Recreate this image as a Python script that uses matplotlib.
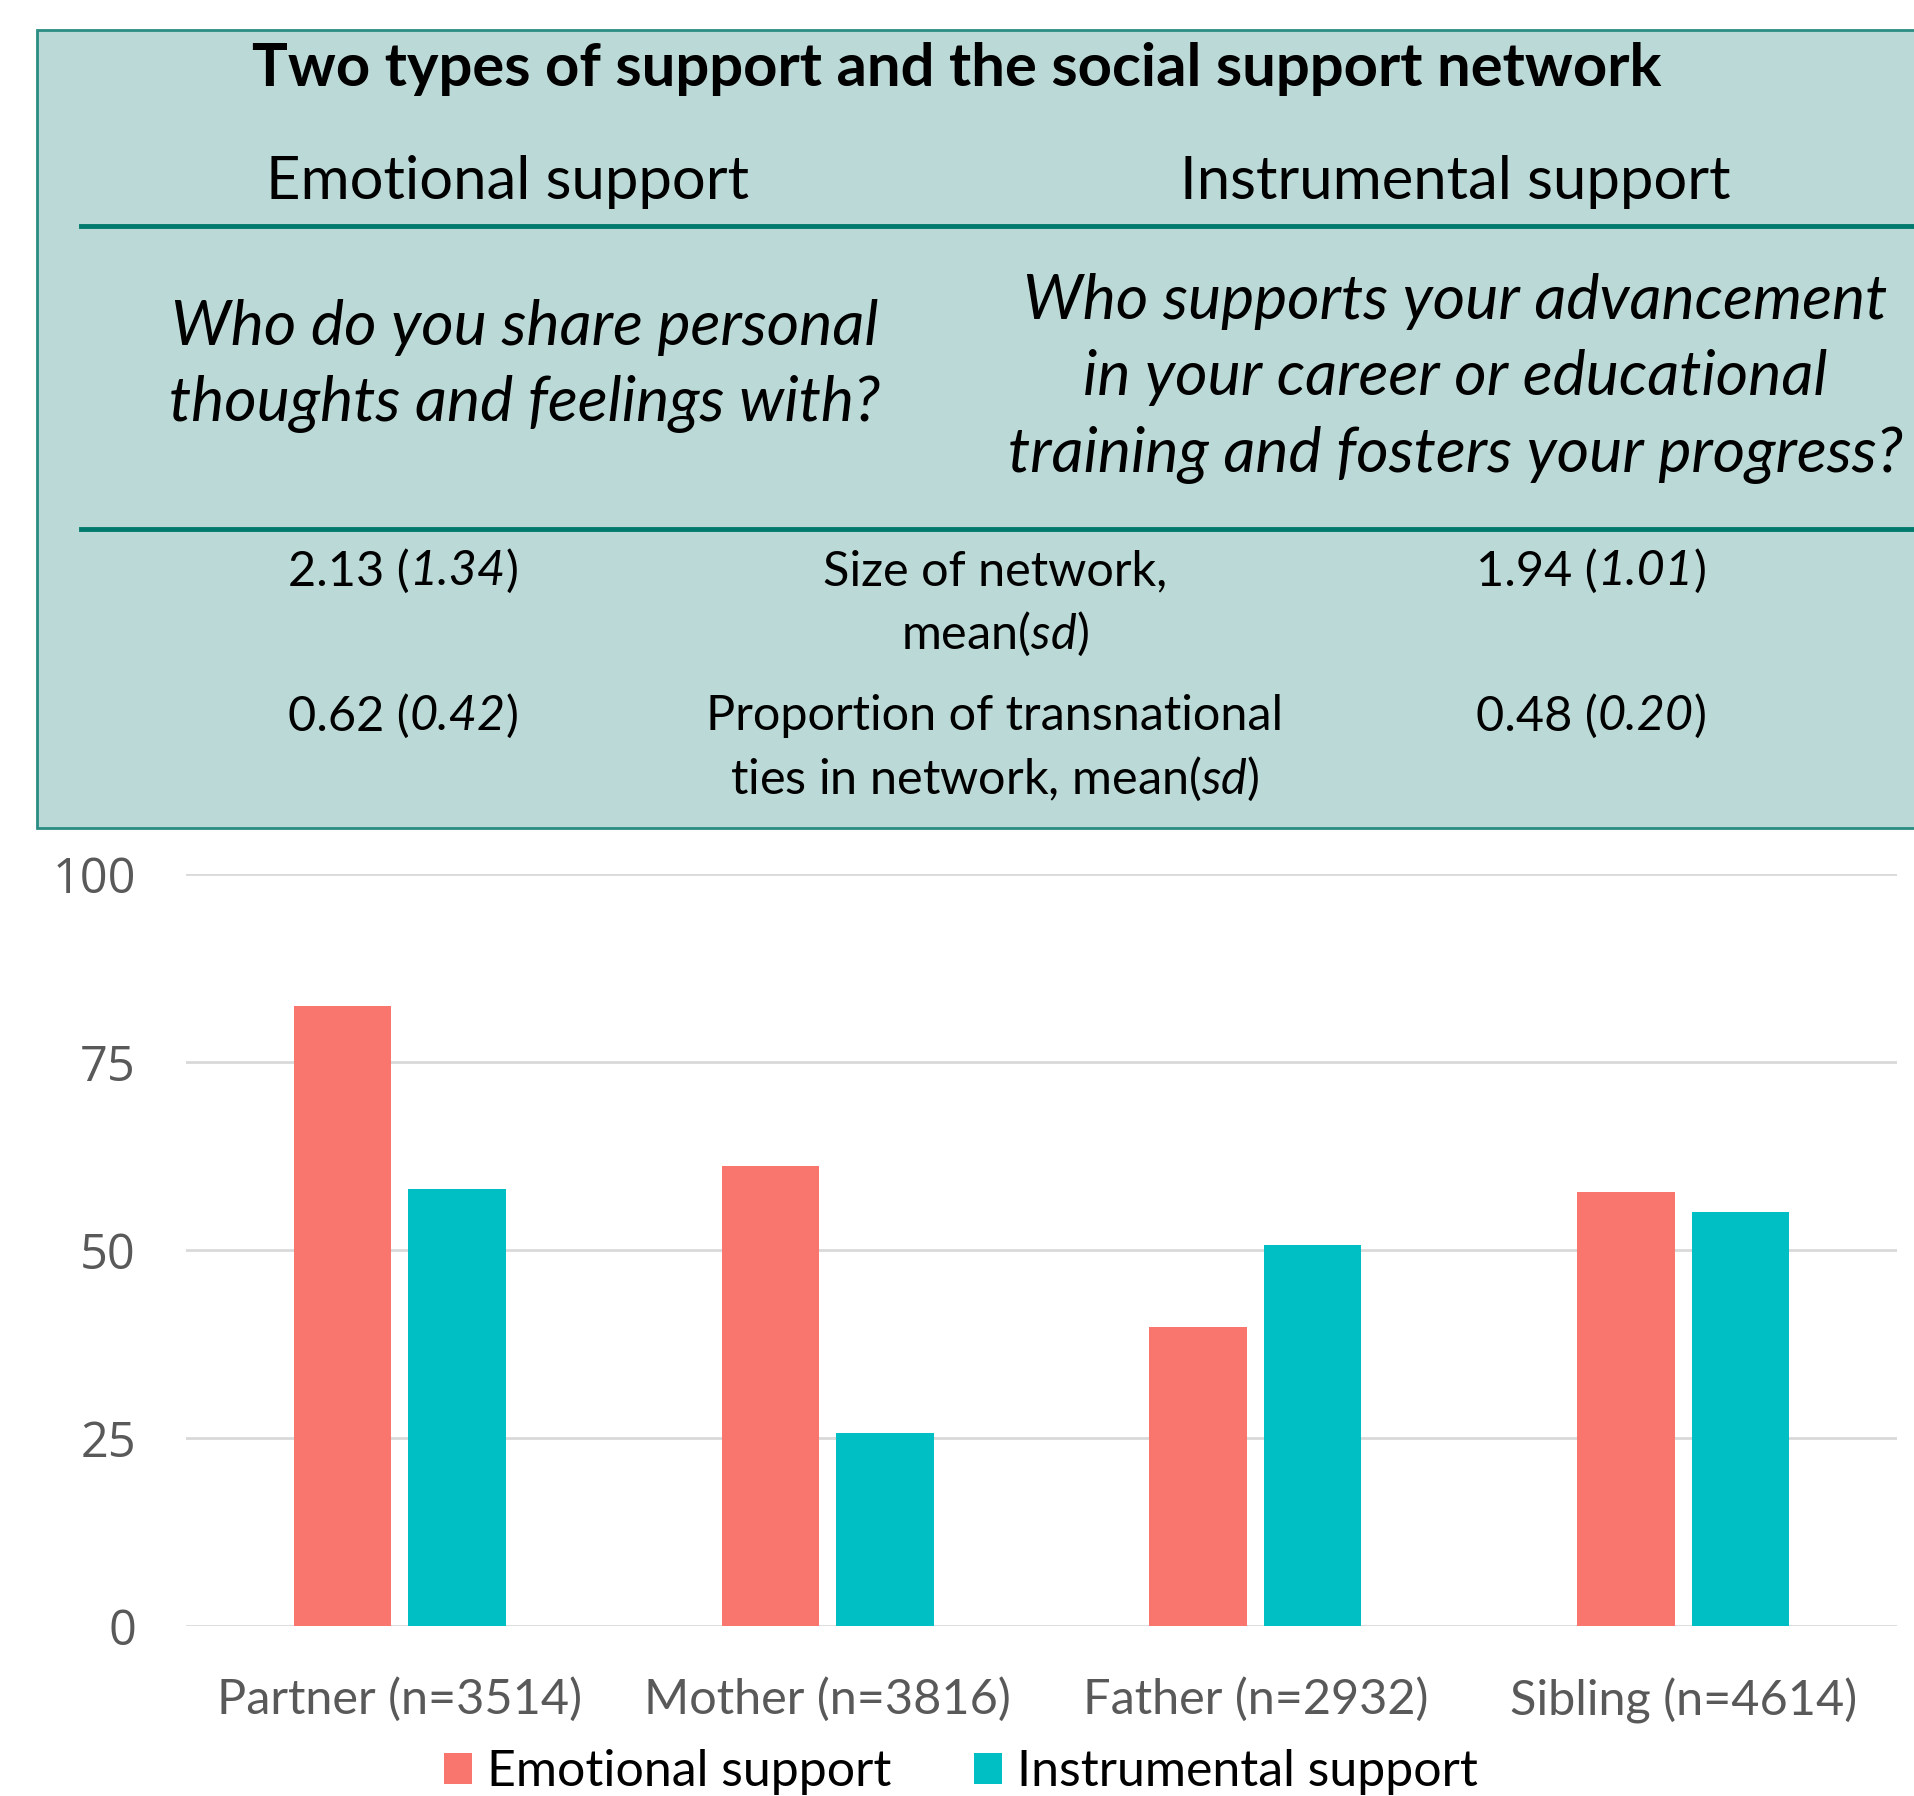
import numpy as np
import matplotlib.pyplot as plt
from matplotlib.patches import Rectangle
from matplotlib.lines import Line2D
from matplotlib.offsetbox import TextArea, HPacker, AnnotationBbox

# bar data: percent of each tie type named in the network
categories = ["Partner (n=3514)", "Mother (n=3816)", "Father (n=2932)", "Sibling (n=4614)"]
emotional = [82.5, 61.2, 39.7, 57.7]
instrumental = [58.1, 25.6, 50.6, 55.0]
yticks = [0, 25, 50, 75, 100]

# summary table in the header panel
title = "Two types of support and the social support network"
col_heads = ["Emotional support", "Instrumental support"]
q_emotional = ["Who do you share personal", "thoughts and feelings with?"]
q_instrumental = ["Who supports your advancement", "in your career or educational",
                  "training and fosters your progress?"]
row_labels = [["Size of network,", "mean($\\it{sd}$)"],
              ["Proportion of transnational", "ties in network, mean($\\it{sd}$)"]]
emo_stats = [("2.13", "1.34"), ("0.62", "0.42")]
ins_stats = [("1.94", "1.01"), ("0.48", "0.20")]

W, H = 1914, 1796
C_EMO = "#F8766D"
C_INS = "#00BFC4"
BOX = "#BBD9D6"
RULE = "#007A6C"
FONT = "Lato"

plt.rcParams['font.family'] = [FONT, 'DejaVu Sans']
plt.rcParams['mathtext.fontset'] = 'custom'
plt.rcParams['mathtext.rm'] = FONT
plt.rcParams['mathtext.it'] = FONT + ':italic'
fig = plt.figure(figsize=(W / 100, H / 100), dpi=100)


def fx(px):
    return px / W


def fy(py):
    return 1 - py / H


def ftext(x, y, s, **kw):
    kw.setdefault("ha", "center")
    kw.setdefault("va", "center")
    fig.text(fx(x), fy(y), s, **kw)


def stat_text(x, y, mean, sd, size):
    # "mean (sd)" with the sd set in italics
    parts = [TextArea(mean + " (", textprops=dict(fontsize=size)),
             TextArea(sd, textprops=dict(fontsize=size, style="italic")),
             TextArea(")", textprops=dict(fontsize=size))]
    box = HPacker(children=parts, pad=0, sep=0, align="baseline")
    ab = AnnotationBbox(box, (fx(x), fy(y)), xycoords="figure fraction",
                        frameon=False, box_alignment=(0.5, 0.5), pad=0)
    fig.add_artist(ab)


# header panel
fig.patches.append(Rectangle((fx(37), fy(828)), 1.2, fy(30) - fy(828),
                             transform=fig.transFigure, facecolor=BOX,
                             edgecolor="#2A8C82", linewidth=2, zorder=0))
for y in (226, 529):
    fig.lines.append(Line2D([fx(81), 1.0], [fy(y), fy(y)], transform=fig.transFigure,
                            color=RULE, linewidth=3.5))

ftext(957, 69, title, fontsize=43, fontweight="bold")
ftext(507, 182, col_heads[0], fontsize=43)
ftext(1455, 182, col_heads[1], fontsize=43)

for i, line in enumerate(q_emotional):
    ftext(525, 328 + i * 76, line, fontsize=45, style="italic")
for i, line in enumerate(q_instrumental):
    ftext(1455, 301 + i * 77, line, fontsize=45, style="italic")

for r, y in enumerate((571, 716)):
    stat_text(403, y, emo_stats[r][0], emo_stats[r][1], 35)
    stat_text(1591, y, ins_stats[r][0], ins_stats[r][1], 35)
    for k, line in enumerate(row_labels[r]):
        ftext(995, y + k * 63, line, fontsize=35)

# bar chart
ax = fig.add_axes([fx(186), fy(1626), fx(1897) - fx(186), fy(874) - fy(1626)])
x = np.arange(len(categories))
bw = 0.228
ax.bar(x - 0.134, emotional, bw, color=C_EMO, label="Emotional support", zorder=3)
ax.bar(x + 0.134, instrumental, bw, color=C_INS, label="Instrumental support", zorder=3)

ax.set_xlim(-0.5, len(categories) - 0.5)
ax.set_ylim(0, 100)
ax.set_yticks(yticks)
ax.yaxis.grid(True, color="#D9D9D9", linewidth=2)
ax.set_axisbelow(True)
for sp in ax.spines.values():
    sp.set_visible(False)
ax.tick_params(length=0)
ax.set_xticks(x)
ax.set_xticklabels(categories, fontsize=35, color="#595959")
ax.tick_params(axis="x", pad=37)
ax.set_yticklabels([str(v) for v in yticks], fontsize=35, color="#595959",
                   fontfamily="Open Sans")
ax.tick_params(axis="y", pad=36)

leg = fig.legend(loc="center", bbox_to_anchor=(fx(961), fy(1772)), ncol=2,
                 frameon=False, fontsize=36, handlelength=0.56, handleheight=0.56,
                 handletextpad=0.3, columnspacing=1.64)

fig.savefig("out.png", dpi=100)
